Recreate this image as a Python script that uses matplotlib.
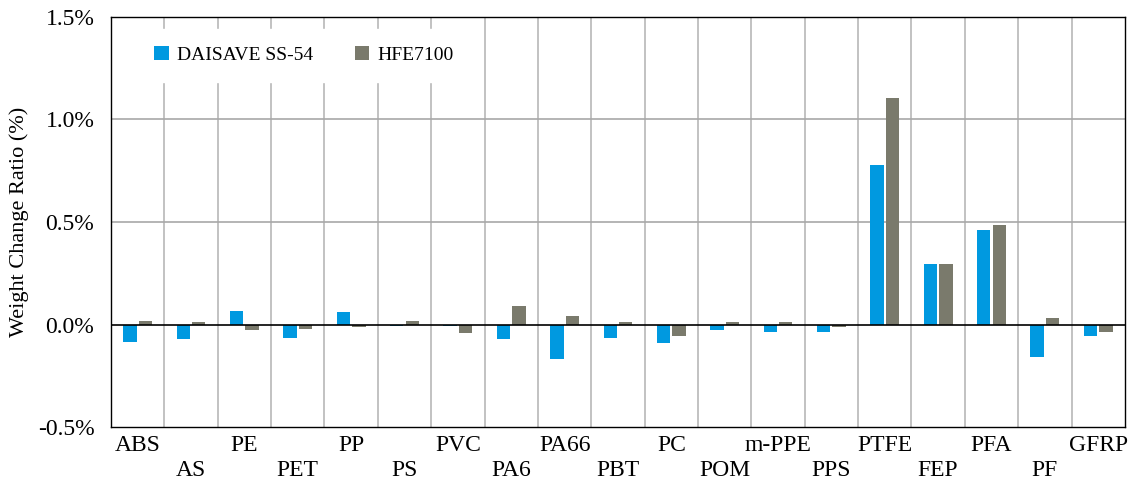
import matplotlib
matplotlib.use("Agg")
import matplotlib.pyplot as plt
import numpy as np

plt.rcParams['font.family'] = ['Liberation Serif', 'DejaVu Serif']

materials = ["ABS", "AS", "PE", "PET", "PP", "PS", "PVC", "PA6", "PA66", "PBT",
             "PC", "POM", "m-PPE", "PPS", "PTFE", "FEP", "PFA", "PF", "GFRP"]
daisave = [-0.085, -0.070, 0.065, -0.065, 0.060, -0.005, -0.005, -0.070, -0.167, -0.065,
           -0.089, -0.026, -0.036, -0.036, 0.778, 0.295, 0.461, -0.158, -0.055]
hfe7100 = [0.016, 0.011, -0.026, -0.021, -0.011, 0.016, -0.041, 0.089, 0.041, 0.011,
           -0.055, 0.011, 0.011, -0.011, 1.105, 0.295, 0.485, 0.031, -0.036]
yticks = [-0.5, 0.0, 0.5, 1.0, 1.5]

fig = plt.figure(figsize=(11.34, 4.82), dpi=100)
ax = fig.add_axes([0.0979, 0.114, 0.8941, 0.851])

x = np.arange(len(materials))
w = 0.25
ax.bar(x - w/2 - 0.02, daisave, w, color="#0099E0", label="DAISAVE SS-54", zorder=3)
ax.bar(x + w/2 + 0.02, hfe7100, w, color="#7A7A6C", label="HFE7100", zorder=3)

ax.set_xlim(-0.5, len(materials) - 0.5)
ax.set_ylim(-0.5, 1.5)
ax.set_yticks(yticks)
ax.set_yticklabels(["%.1f%%" % v for v in yticks], fontsize=17)

# staggered category labels
labels = [m if i % 2 == 0 else "\n" + m for i, m in enumerate(materials)]
ax.set_xticks(x)
ax.set_xticklabels(labels, fontsize=17, linespacing=1.25)
ax.tick_params(axis="both", length=0)
ax.tick_params(axis="x", pad=6)
ax.tick_params(axis="y", pad=12)

for b in np.arange(0.5, len(materials) - 0.5, 1):
    ax.axvline(b, color="#b8b8b8", lw=1.2, zorder=1)
for v in [0.5, 1.0]:
    ax.axhline(v, color="#a8a8a8", lw=1.2, zorder=1)
ax.axhline(0, color="black", lw=1.2, zorder=4)

for s in ax.spines.values():
    s.set_linewidth(1.0)

ax.set_ylabel("Weight Change Ratio (%)", fontsize=16, labelpad=6)

leg = ax.legend(loc="upper left", bbox_to_anchor=(0.016, 0.995), ncol=2, fontsize=14,
                frameon=True, fancybox=False, edgecolor="white", facecolor="white",
                framealpha=1, handlelength=0.75, handleheight=0.75, columnspacing=2.15,
                handletextpad=0.4, borderpad=0.9)
leg.set_zorder(5)

fig.savefig("out.png", dpi=100)
